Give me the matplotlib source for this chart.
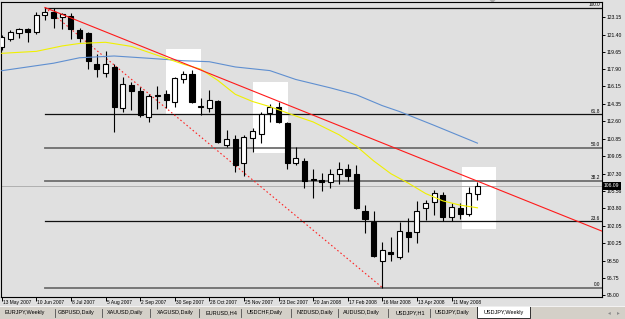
import matplotlib
matplotlib.use('Agg')
import matplotlib.pyplot as plt
from matplotlib import font_manager
from matplotlib.patches import Rectangle, Polygon

installed = {f.name for f in font_manager.fontManager.ttflist}
if 'Liberation Sans Narrow' in installed:
    plt.rcParams['font.family'] = ['Liberation Sans Narrow', 'DejaVu Sans']
    FS = 1.0
else:
    plt.rcParams['font.family'] = ['Liberation Sans', 'DejaVu Sans']
    FS = 0.82

# weekly USDJPY candles, week of 13 May 2007 .. 1 Jun 2008
opens = [120.11, 120.95, 121.59, 121.96, 121.63, 123.38, 123.70, 123.15, 123.30, 121.86,
         121.53, 118.39, 117.48, 118.15, 114.00, 116.29, 115.68, 113.00, 115.20, 115.35,
         114.60, 116.87, 117.40, 114.10, 113.92, 114.67, 110.21, 110.79, 108.36, 110.89,
         111.30, 113.42, 114.03, 112.47, 108.42, 108.60, 106.80, 106.70, 106.49, 107.24,
         107.78, 107.27, 103.56, 102.38, 98.46, 99.35, 98.83, 101.43, 101.37, 103.80,
         104.41, 105.15, 102.95, 103.86, 103.22, 105.25]
highs = [121.36, 121.86, 122.10, 122.04, 123.66, 124.14, 124.06, 123.60, 123.55, 122.03,
         121.69, 119.40, 119.74, 118.42, 117.07, 116.63, 116.06, 115.38, 116.20, 115.78,
         117.07, 117.74, 117.81, 114.94, 115.78, 114.77, 111.73, 111.22, 111.22, 111.90,
         113.59, 114.34, 114.60, 112.57, 110.04, 108.90, 107.78, 107.34, 107.78, 108.52,
         108.29, 108.19, 104.13, 103.53, 100.41, 100.92, 102.40, 102.79, 104.57, 104.64,
         105.65, 105.48, 104.30, 104.37, 105.93, 106.49]
lows = [119.84, 120.75, 121.02, 120.62, 121.43, 122.90, 122.10, 121.93, 120.92, 120.68,
        117.88, 117.13, 117.07, 111.56, 113.59, 113.76, 113.08, 112.51, 113.90, 113.93,
        114.09, 116.50, 114.44, 113.25, 113.59, 110.45, 109.98, 107.51, 107.07, 109.53,
        110.38, 112.57, 112.41, 107.78, 108.20, 105.90, 104.87, 105.58, 105.82, 106.26,
        106.60, 103.70, 101.33, 98.90, 95.77, 98.49, 98.66, 99.40, 100.25, 102.61,
        103.12, 102.54, 102.54, 102.68, 103.05, 104.64]
closes = [121.12, 121.63, 121.93, 121.63, 123.38, 123.70, 123.05, 123.45, 121.93, 121.08,
          118.72, 117.91, 118.39, 114.09, 116.36, 115.71, 113.25, 115.21, 115.30, 114.77,
          116.97, 117.40, 114.54, 114.15, 114.77, 110.55, 110.82, 108.18, 111.05, 111.66,
          113.35, 114.09, 112.51, 108.36, 108.86, 106.60, 106.70, 106.50, 107.27, 107.75,
          107.10, 103.80, 102.71, 98.97, 99.57, 99.17, 101.53, 100.86, 103.56, 104.30,
          105.32, 102.95, 103.96, 103.22, 105.32, 106.09]

date_idx = [0, 4, 8, 12, 16, 20, 24, 28, 32, 36, 40, 44, 48, 52]
date_labels = ['13 May 2007', '10 Jun 2007', '8 Jul 2007', '5 Aug 2007', '2 Sep 2007',
               '30 Sep 2007', '28 Oct 2007', '25 Nov 2007', '23 Dec 2007', '20 Jan 2008',
               '17 Feb 2008', '16 Mar 2008', '13 Apr 2008', '11 May 2008']

price_ticks = [95.00, 96.75, 98.50, 100.25, 102.05, 103.80, 105.56, 107.30, 109.05,
               110.85, 112.60, 114.35, 116.15, 117.90, 119.65, 121.40, 123.15]

# moving averages
ma_fast_idx = [0, 4, 7, 9, 12, 15, 19, 21, 23, 25, 27, 29, 31, 34, 36, 39, 41, 43, 45,
               47, 49, 51, 53, 55]
ma_fast = [119.50, 119.70, 120.25, 120.50, 120.62, 120.20, 119.00, 118.40, 117.90, 116.75,
           115.35, 114.62, 114.10, 113.15, 112.55, 111.25, 110.10, 108.60, 107.30, 106.35,
           105.30, 104.55, 104.12, 103.85]
ma_slow_idx = [0, 6, 9, 13, 17, 21, 24, 27, 31, 34, 38, 41, 44, 46, 50, 55]
ma_slow = [117.74, 118.50, 119.05, 119.23, 119.00, 118.75, 118.65, 118.12, 117.75, 116.85,
           116.00, 115.30, 114.20, 113.60, 112.20, 110.40]

# fibonacci retracement anchors and levels
fib_hi = (5, 124.14)
fib_lo = (44, 95.77)
fib_levels = [0.0, 23.6, 38.2, 50.0, 61.8, 100.0]

# trend line (ray)
trend_a = (5, 124.14)
trend_b = (55, 106.55)

# highlight rectangles: x0, x1, low, high
boxes = [(19.0, 23.0, 113.25, 119.91),
         (29.1, 33.1, 109.40, 116.56),
         (53.2, 57.1, 101.67, 108.01)]

bid = 106.09

tabs = ['EURJPY,Weekly', 'GBPUSD,Daily', 'XAUUSD,Daily', 'XAGUSD,Daily', 'EURUSD,H4',
        'USDCHF,Daily', 'NZDUSD,Daily', 'AUDUSD,Daily', 'USDJPY,H1', 'USDJPY,Daily',
        'USDJPY,Weekly']
tab_x = [25, 76, 125, 175, 221.5, 264.5, 315, 361.5, 410, 451.5, 503.5]
sep_x = [55, 101.5, 150, 199, 240.5, 290.5, 337.5, 387.5, 429.5]

BG = '#e0e0e0'
W, H = 625, 319

fig = plt.figure(figsize=(W / 100, H / 100), dpi=100, facecolor=BG)

# pixel-space helper axes for the window furniture
bg = fig.add_axes([0, 0, 1, 1])
bg.set_xlim(0, W)
bg.set_ylim(H, 0)
bg.axis('off')
bg.set_zorder(0)

ax = fig.add_axes([1 / W, (H - 297) / H, 601 / W, 295 / H])
ax.set_zorder(1)
ax.set_facecolor(BG)


def px_price(y):
    return 123.15 - (y - 17.3) / 9.87


ax.set_ylim(px_price(297), px_price(2))
x0, x1 = (1 - 1.7) / 8.65, (602 - 1.7) / 8.65
ax.set_xlim(x0, x1)

for bx0, bx1, blo, bhi in boxes:
    ax.add_patch(Rectangle((bx0, blo), bx1 - bx0, bhi - blo, facecolor='white',
                           edgecolor='none', zorder=1))

# fibo levels
for lvl in fib_levels:
    p = fib_lo[1] + (fib_hi[1] - fib_lo[1]) * lvl / 100
    if lvl in (0.0, 38.2, 50.0):
        ax.plot([fib_hi[0], x1], [p, p], color='#6e6e6e', lw=1.3, zorder=2)
    else:
        ax.plot([fib_hi[0], x1], [p, p], color='#101010', lw=0.9, zorder=2)
    ax.text(0.997, p + 0.08, f'{lvl:.1f}', transform=ax.get_yaxis_transform(),
            ha='right', va='bottom', fontsize=4.2 * FS, color='black', zorder=2)
ax.plot([fib_hi[0], fib_lo[0]], [fib_hi[1], fib_lo[1]], color='#ff2020', lw=0.8,
        ls=(0, (1.4, 2.2)), zorder=3)

# bid line
ax.axhline(bid, color='#b0b0b0', lw=0.7, zorder=1.5)

# candles
idx = list(range(len(opens)))
ax.vlines(idx, lows, highs, color='black', lw=0.8, zorder=4)
bottoms = [min(o, c) for o, c in zip(opens, closes)]
heights = [max(abs(c - o), 0.02) for o, c in zip(opens, closes)]
colors = ['white' if c >= o else 'black' for o, c in zip(opens, closes)]
ax.bar(idx, heights, bottom=bottoms, width=0.58, color=colors, edgecolor='black',
       lw=0.8, zorder=5)

# moving averages
ax.plot(ma_slow_idx, ma_slow, color='#5f8fd0', lw=0.8, zorder=6)
ax.plot(ma_fast_idx, ma_fast, color='#f0f000', lw=0.8, zorder=6)

# trend ray
slope = (trend_b[1] - trend_a[1]) / (trend_b[0] - trend_a[0])
ax.plot([trend_a[0], x1], [trend_a[1], trend_a[1] + slope * (x1 - trend_a[0])],
        color='#ff1a1a', lw=0.8, zorder=6)

# axes
for s in ax.spines.values():
    s.set_color('black')
    s.set_linewidth(0.8)
ax.yaxis.tick_right()
ax.set_yticks(price_ticks, labels=[f'{p:.2f}' for p in price_ticks])
ax.tick_params(axis='y', length=2.2, width=0.7, pad=1, labelsize=4.4 * FS,
               colors='black')
ax.set_xticks(date_idx, labels=[''] * len(date_idx))
ax.tick_params(axis='x', length=2.6, width=0.7, pad=0)
for i, lab in zip(date_idx, date_labels):
    ax.text(i + 0.12, -0.017, lab, transform=ax.get_xaxis_transform(), ha='left',
            va='center', fontsize=4.3 * FS, color='black', clip_on=False)

# current price marker
ax.add_patch(Rectangle((602, 181.7), 19, 8, facecolor='black', edgecolor='none',
                       transform=bg.transData, clip_on=False, zorder=10))
ax.text(604, 185.8, f'{bid:.2f}', transform=bg.transData, ha='left', va='center',
        fontsize=4.4 * FS, color='white', clip_on=False, zorder=11)

# chart shift marker
bg.add_patch(Polygon([[489.5, 0], [495.5, 0], [492.5, 3]], closed=True,
                     facecolor='#a8a8a8', edgecolor='none'))

# tab strip
bg.add_patch(Rectangle((0, 306), W, H - 306, facecolor='#d4d0c8', edgecolor='none'))
bg.plot([0, W], [306.3, 306.3], color='#f4f4f4', lw=0.7)
bg.add_patch(Rectangle((477, 306), 53, 12.3, facecolor='white', edgecolor='#303030',
                       lw=0.7))
for tx, name in zip(tab_x, tabs):
    bg.text(tx, 312.6, name, ha='center', va='center', fontsize=4.8 * FS,
            color='black')
for sx in sep_x:
    bg.plot([sx, sx], [309, 316.5], color='#505050', lw=0.6)
bg.text(609, 312.6, '\u25c2', ha='center', va='center', fontsize=4,
        color='#8a8a8a', family='DejaVu Sans')
bg.text(618, 312.6, '\u25b8', ha='center', va='center', fontsize=4,
        color='#8a8a8a', family='DejaVu Sans')

fig.savefig('out.png', dpi=100, facecolor=BG)
